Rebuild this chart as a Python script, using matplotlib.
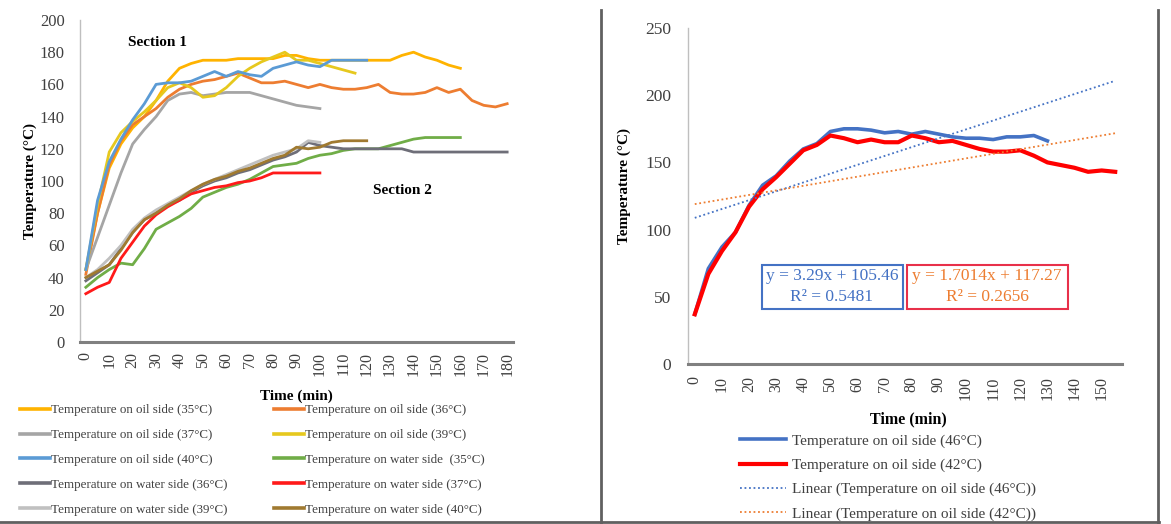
import numpy as np
import matplotlib
matplotlib.use("Agg")
import matplotlib.pyplot as plt
from matplotlib.lines import Line2D
from matplotlib.patches import Rectangle

SERIF = ['Liberation Serif', 'DejaVu Serif']
plt.rcParams['font.family'] = SERIF

# ---------------- data: left chart (Section 1 / Section 2) ----------------
t_oil_35 = list(range(0, 161, 5))
oil_35 = [45, 80, 108, 123, 133, 140, 150, 162, 170, 173, 175, 175, 175, 176, 176, 176, 176,
          178, 178, 176, 175, 175, 175, 175, 175, 175, 175, 178, 180, 177, 175, 172, 170]
t_oil_36 = list(range(0, 181, 5))
oil_36 = [42, 80, 110, 125, 135, 140, 145, 152, 157, 160, 162, 163, 165, 167, 164, 161, 161,
          162, 160, 158, 160, 158, 157, 157, 158, 160, 155, 154, 154, 155, 158, 155, 157,
          150, 147, 146, 148]
t_oil_37 = list(range(0, 101, 5))
oil_37 = [45, 65, 85, 105, 123, 132, 140, 150, 154, 155, 153, 154, 155, 155, 155, 153, 151,
          149, 147, 146, 145]
t_oil_39 = list(range(0, 116, 5))
oil_39 = [45, 85, 118, 130, 137, 143, 150, 158, 161, 158, 152, 153, 158, 165, 170, 174, 177,
          180, 175, 175, 173, 171, 169, 167]
t_oil_40 = list(range(0, 121, 5))
oil_40 = [45, 88, 112, 126, 138, 148, 160, 161, 161, 162, 165, 168, 165, 168, 166, 165, 170,
          172, 174, 172, 171, 175, 175, 175, 175]
t_water_35 = list(range(0, 161, 5))
water_35 = [34, 40, 45, 49, 48, 58, 70, 74, 78, 83, 90, 93, 96, 98, 101, 105, 109, 110, 111,
            114, 116, 117, 119, 120, 120, 120, 122, 124, 126, 127, 127, 127, 127]
t_water_36 = list(range(0, 181, 5))
water_36 = [38, 43, 48, 58, 68, 76, 80, 85, 88, 93, 97, 100, 102, 105, 107, 110, 113, 115, 118,
            124, 122, 121, 120, 120, 120, 120, 120, 120, 118, 118, 118, 118, 118, 118, 118,
            118, 118]
t_water_37 = list(range(0, 101, 5))
water_37 = [30, 34, 37, 52, 62, 72, 79, 84, 88, 92, 94, 96, 97, 99, 100, 102, 105, 105, 105,
            105, 105]
t_water_39 = list(range(0, 101, 5))
water_39 = [40, 45, 52, 60, 70, 77, 82, 86, 90, 94, 98, 101, 104, 107, 110, 113, 116, 118,
            120, 125, 124]
t_water_40 = list(range(0, 121, 5))
water_40 = [40, 44, 48, 57, 68, 76, 80, 85, 89, 94, 98, 101, 103, 106, 108, 111, 114, 116,
            121, 120, 121, 124, 125, 125, 125]

left_labels = ["Temperature on oil side (35°C)", "Temperature on oil side (36°C)",
               "Temperature on oil side (37°C)", "Temperature on oil side (39°C)",
               "Temperature on oil side (40°C)", "Temperature on water side  (35°C)",
               "Temperature on water side (36°C)", "Temperature on water side (37°C)",
               "Temperature on water side (39°C)", "Temperature on water side (40°C)"]
left_ticks = list(range(0, 181, 10))

# ---------------- data: right chart ----------------
t_right_42 = list(range(0, 156, 5))
oil_42 = [37, 67, 84, 98, 117, 130, 139, 149, 159, 163, 170, 168, 165, 167, 165, 165, 170,
          168, 165, 166, 163, 160, 158, 158, 159, 155, 150, 148, 146, 143, 144, 143]
t_right_46 = list(range(0, 131, 5))
oil_46 = [37, 71, 87, 98, 118, 133, 140, 151, 160, 164, 173, 175, 175, 174, 172, 173, 171,
          173, 171, 169, 168, 168, 167, 169, 169, 170, 166]
trend_46 = (3.29, 105.46, 0.5481)     # slope, intercept, R²
trend_42 = (1.7014, 117.27, 0.2656)
right_labels = ["Temperature on oil side (46°C)", "Temperature on oil side (42°C)",
                "Linear (Temperature on oil side (46°C))",
                "Linear (Temperature on oil side (42°C))"]
right_ticks = list(range(0, 151, 10))

# ---------------- figure ----------------
W, H = 1171, 524
fig = plt.figure(figsize=(W / 100, H / 100), dpi=100)


def fx(px):
    return px / W


def fy(py):
    return 1 - py / H


def style_axes(ax):
    for s in ('top', 'right'):
        ax.spines[s].set_visible(False)
    ax.spines['left'].set_color('#BFBFBF')
    ax.spines['left'].set_linewidth(1.0)
    ax.spines['bottom'].set_color('#808080')
    ax.spines['bottom'].set_linewidth(2.2)
    ax.tick_params(length=0)


# Left chart
axL = fig.add_axes([fx(80), fy(342), fx(513) - fx(80), fy(20) - fy(342)])
style_axes(axL)
colors_left = ['#FFB300', '#ED7D31', '#A5A5A5', '#E6C81E', '#5B9BD5',
               '#70AD47', '#6E6E78', '#FF1A1A', '#C0C0C0', '#A07A30']
series_left = [(t_oil_35, oil_35), (t_oil_36, oil_36), (t_oil_37, oil_37),
               (t_oil_39, oil_39), (t_oil_40, oil_40), (t_water_35, water_35),
               (t_water_36, water_36), (t_water_37, water_37), (t_water_39, water_39),
               (t_water_40, water_40)]
handles_left = []
for (tt, vv), c, lab in zip(series_left, colors_left, left_labels):
    ln, = axL.plot(tt, vv, color=c, lw=2.0, label=lab, solid_joinstyle='round')
    handles_left.append(ln)
axL.set_xlim(-2.5, 182.5)
axL.set_ylim(0, 200)
axL.set_yticks(range(0, 201, 20))
axL.set_xticks(left_ticks)
axL.set_xticklabels([str(v) for v in left_ticks], rotation=90, fontsize=11.5)
axL.tick_params(axis='y', labelsize=12, pad=11)
axL.tick_params(axis='x', pad=7)
for lab in axL.get_yticklabels() + axL.get_xticklabels():
    lab.set_color('#404040')

fig.text(fx(157), fy(43), "Section 1", fontsize=11, fontweight='bold', ha='center', va='center')
fig.text(fx(402), fy(190), "Section 2", fontsize=11, fontweight='bold', ha='center', va='center')
fig.text(fx(30), fy(181), "Temperature (°C)", fontsize=11, fontweight='bold', rotation=90,
         ha='center', va='center')
fig.text(fx(296), fy(396), "Time (min)", fontsize=11, fontweight='bold', ha='center', va='center')

# legend is read row by row in the reference -> reorder for column-major filling
order = [0, 2, 4, 6, 8, 1, 3, 5, 7, 9]
legL = fig.legend(handles=[handles_left[i] for i in order],
                  labels=[left_labels[i] for i in order], ncol=2, loc='upper left',
                  bbox_to_anchor=(fx(20), fy(404)), frameon=False, fontsize=9.4,
                  handlelength=2.3, handletextpad=0.1, columnspacing=3.5,
                  labelspacing=0.98, borderaxespad=0, borderpad=0)
for t in legL.get_texts():
    t.set_color('#404040')
for h in legL.legend_handles:
    h.set_linewidth(2.6)

# Right chart
axR = fig.add_axes([fx(688), fy(364), fx(1122) - fx(688), fy(28) - fy(364)])
style_axes(axR)
lb, = axR.plot(t_right_46, oil_46, color='#4472C4', lw=2.6, solid_joinstyle='round')
lr, = axR.plot(t_right_42, oil_42, color='#FF0000', lw=3.0, solid_joinstyle='round')
idx = np.arange(1, len(t_right_42) + 1)
tt = np.array(t_right_42)
lbt, = axR.plot(tt, trend_46[0] * idx + trend_46[1], color='#4472C4', lw=1.3, ls=(0, (1, 1.5)))
lrt, = axR.plot(tt, trend_42[0] * idx + trend_42[1], color='#ED7D31', lw=1.3, ls=(0, (1, 1.5)))
axR.set_xlim(-2.5, 157.5)
axR.set_ylim(0, 250)
axR.set_yticks(range(0, 251, 50))
axR.set_xticks(right_ticks)
axR.set_xticklabels([str(v) for v in right_ticks], rotation=90, fontsize=11.5)
axR.tick_params(axis='y', labelsize=12.5, pad=12)
axR.tick_params(axis='x', pad=9)
for lab in axR.get_yticklabels() + axR.get_xticklabels():
    lab.set_color('#404040')

# equation boxes
fig.add_artist(Rectangle((fx(762), fy(309)), fx(903) - fx(762), fy(265) - fy(309),
                         transform=fig.transFigure, fill=False, ec='#4472C4', lw=1.5))
fig.add_artist(Rectangle((fx(907), fy(309)), fx(1068) - fx(907), fy(265) - fy(309),
                         transform=fig.transFigure, fill=False, ec='#E8304A', lw=1.5))
fig.text(fx(832), fy(276), f"y = {trend_46[0]}x + {trend_46[1]}", fontsize=12.5,
         color='#4472C4', ha='center', va='center')
fig.text(fx(832), fy(297), f"R² = {trend_46[2]}", fontsize=12.5, color='#4472C4',
         ha='center', va='center')
fig.text(fx(987), fy(276), f"y = {trend_42[0]}x + {trend_42[1]}", fontsize=12.5,
         color='#ED7D31', ha='center', va='center')
fig.text(fx(987), fy(297), f"R² = {trend_42[2]}", fontsize=12.5, color='#ED7D31',
         ha='center', va='center')

fig.text(fx(624), fy(186), "Temperature (°C)", fontsize=11, fontweight='bold', rotation=90,
         ha='center', va='center')
fig.text(fx(908), fy(419), "Time (min)", fontsize=11.5, fontweight='bold', ha='center',
         va='center')

legR = fig.legend(handles=[lb, lr, lbt, lrt], labels=right_labels, ncol=1, loc='upper left',
                  bbox_to_anchor=(fx(740), fy(434)), frameon=False, fontsize=11,
                  handlelength=3.0, handletextpad=0.4, labelspacing=0.68,
                  borderaxespad=0, borderpad=0)
for t in legR.get_texts():
    t.set_color('#404040')

# panel borders
for x in (601, 1158):
    fig.add_artist(Line2D([fx(x), fx(x)], [fy(10), fy(523)], transform=fig.transFigure,
                          color='#606060', lw=2))
fig.add_artist(Line2D([0, fx(1159)], [fy(522), fy(522)], transform=fig.transFigure,
                      color='#606060', lw=2))

fig.savefig("out.png", dpi=100)
